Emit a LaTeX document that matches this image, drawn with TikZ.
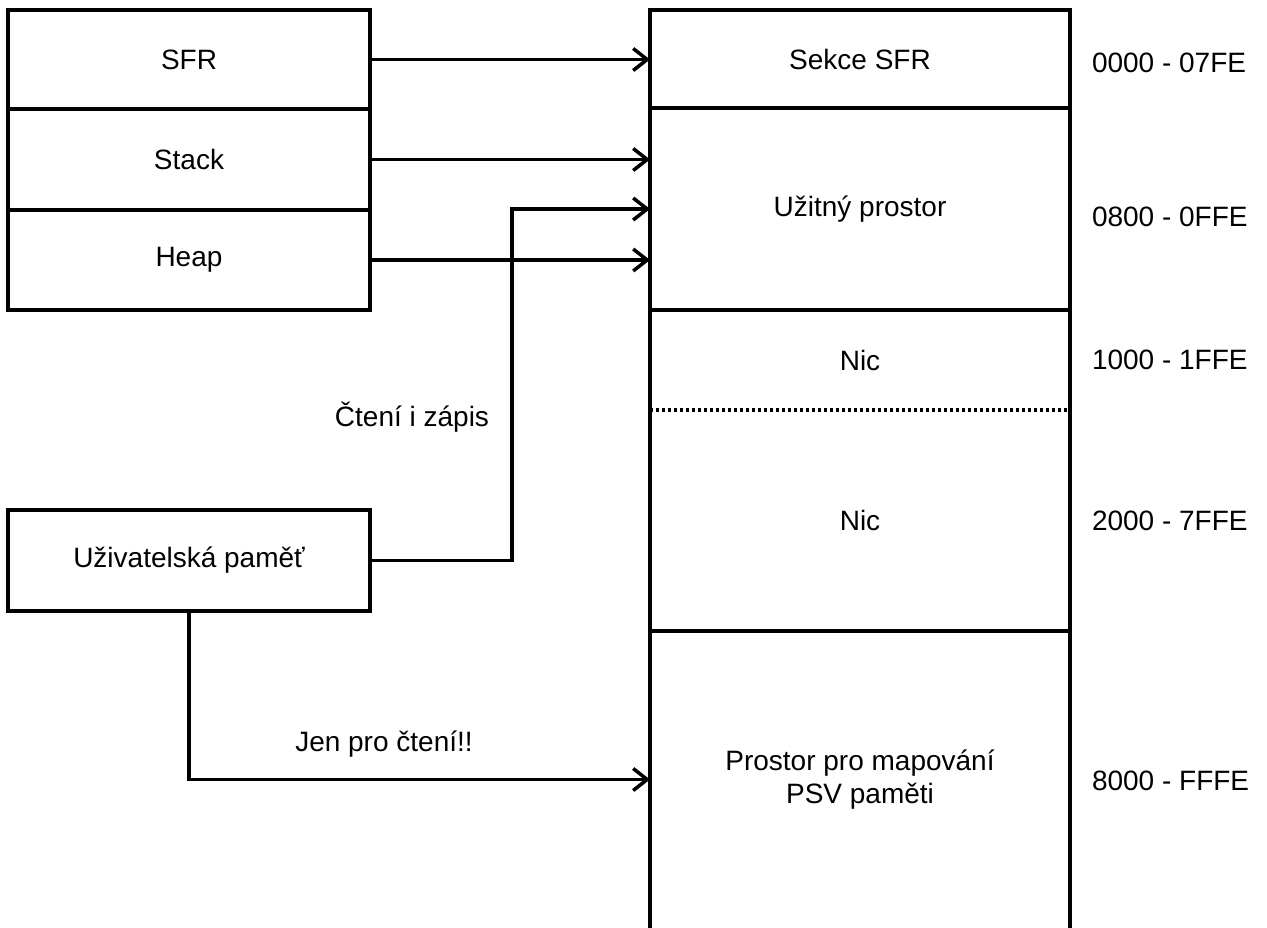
\documentclass[tikz,border=0pt]{standalone}
\usepackage{fontspec}
\setmainfont{Liberation Sans}
\usetikzlibrary{arrows.meta}
\begin{document}
\begin{tikzpicture}[x=1pt,y=-1pt,
  every node/.style={font=\fontsize{28}{33}\selectfont, inner sep=0pt, outer sep=0pt},
  lbox/.style={draw, line width=3.5pt, minimum width=362pt},
  seg/.style={minimum width=420pt, align=center},
  addr/.style={anchor=west},
  wire/.style={line width=3.5pt},
  arr/.style={wire, -{Straight Barb[length=14pt,width=22pt,line width=3.5pt]}},
]
\useasboundingbox (0,0) rectangle (1267,928);

% source blocks
\node[lbox, minimum height=99pt]  (sfr)   at (189,59.5)  {SFR};
\node[lbox, minimum height=101pt] (stack) at (189,159.5) {Stack};
\node[lbox, minimum height=100pt] (heap)  at (189,260)   {Heap};
\node[lbox, minimum height=101pt] (user)  at (189,560.5) {Uživatelská paměť};

% memory map segments
\node[seg, minimum height=98pt]  (sekce)   at (860,59)    {Sekce SFR};
\node[seg, minimum height=202pt] (uzitny)  at (860,209)   {\raisebox{-4pt}{Užitný prostor}};
\node[seg, minimum height=100pt] (nic1)    at (860,360)   {Nic};
\node[seg, minimum height=221pt] (nic2)    at (860,520.5) {Nic};
\node[seg, minimum height=297pt] (prostor) at (860,779.5) {Prostor pro mapování\\PSV paměti};

% memory map outline and dividers
\draw[wire] (650,928) -- (sekce.north west) -- (sekce.north east) -- (1070,928);
\draw[wire] (sekce.south west) -- (sekce.south east);
\draw[wire] (uzitny.south west) -- (uzitny.south east);
\draw[line width=3.5pt, dash pattern=on 3pt off 3pt] (nic1.south west) -- (nic1.south east);
\draw[wire] (nic2.south west) -- (nic2.south east);

% address ranges
\node[addr] (a0) at (1092,63)  {0000 - 07FE};
\node[addr] (a1) at (1092,217) {0800 - 0FFE};
\node[addr] (a2) at (1092,360) {1000 - 1FFE};
\node[addr] (a3) at (1092,521) {2000 - 7FFE};
\node[addr] (a4) at (1092,781) {8000 - FFFE};

% connectors
\draw[arr] (sfr.east) -- (sfr.east -| sekce.west);
\draw[arr] (stack.east) -- (stack.east -| uzitny.west);
\draw[arr] (heap.east) -- (heap.east -| uzitny.west);
\coordinate (jog) at (512,560.5);
\draw[arr] (user.east) -- (jog) |- (uzitny.west);
\draw[arr] (user.south) |- (prostor.west);

% connector labels
\node (rw) at (412,417) {Čtení i zápis};
\node (ro) at (384,744) {Jen pro čtení!!};
\end{tikzpicture}
\end{document}
